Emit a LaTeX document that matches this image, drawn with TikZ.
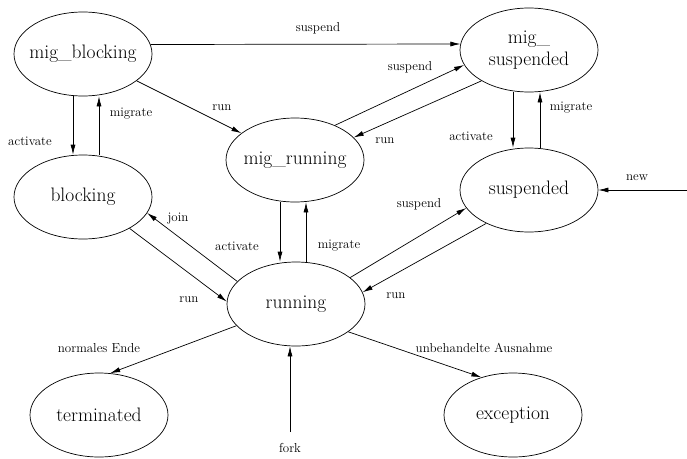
\documentclass[tikz,border=0pt]{standalone}
\usetikzlibrary{shapes.geometric,arrows.meta}
\begin{document}
\begin{tikzpicture}[x=1pt,y=-1pt,line width=0.7pt,
  state/.style={draw,ellipse,minimum width=138pt,minimum height=84pt,inner sep=0pt,inner xsep=-20pt,align=center,font=\fontsize{19.5}{22}\selectfont},
  lbl/.style={inner sep=0pt,font=\fontsize{13}{15}\selectfont},
  trans/.style={-{Latex[length=10pt,width=5pt]}}]
\useasboundingbox (0,0) rectangle (687,458);
% states
\node [state] (migblk) at (83,54) {mig\_blocking};
\node [state] (migsus) at (529,50) {mig\_\\suspended};
\node [state] (blk) at (83,197) {blocking};
\node [state] (migrun) at (295,160) {mig\_running};
\node [state] (sus) at (529,190) {suspended};
\node [state] (run) at (296,304) {running};
\node [state] (term) at (99,415) {terminated};
\node [state] (exc) at (513,415) {exception};
\coordinate (newin) at (687,190);
\coordinate (forkin) at (290,432);
% transitions
\draw [trans] (migblk.8.9) -- (migsus.175);
\draw (318,28) node [lbl] {suspend};
\draw [trans] (migblk) -- (migrun);
\draw (222,108) node [lbl] {run};
\draw [trans] ([xshift=-10pt]migblk.south) -- ([xshift=-10pt]migblk.south |- blk.north);
\draw (30,141) node [lbl] {activate};
\draw [trans] ([xshift=16pt]blk.north) -- ([xshift=16pt]blk.north |- migblk.south);
\draw (131,114) node [lbl] {migrate};
\draw [trans] (migrun.41.9) -- (migsus.193.2);
\draw (410,67) node [lbl] {suspend};
\draw [trans] (migsus.213.1) -- (migrun.21.3);
\draw (385,141) node [lbl] {run};
\draw [trans] ([xshift=-16pt]migsus.south) -- ([xshift=-16pt]migsus.south |- sus.north);
\draw (471,136) node [lbl] {activate};
\draw [trans] ([xshift=11pt]sus.north) -- ([xshift=11pt]sus.north |- migsus.south);
\draw (571,108) node [lbl] {migrate};
\draw [trans] (newin) -- (newin -| sus.east);
\draw (637,178) node [lbl] {new};
\draw [trans] (run.26.6) -- (sus.196.2);
\draw (419,204) node [lbl] {suspend};
\draw [trans] (sus.218.6) -- (run.10.2);
\draw (396,296) node [lbl] {run};
\draw [trans] (run.159.6) -- (blk.346.2);
\draw (178,219) node [lbl] {join};
\draw [trans] (blk.326.8) -- (run.178);
\draw (189,300) node [lbl] {run};
\draw [trans] ([xshift=-15pt]migrun.south) -- ([xshift=-15pt]migrun.south |- run.north);
\draw (237,246) node [lbl] {activate};
\draw [trans] ([xshift=10pt]run.north) -- ([xshift=10pt]run.north |- migrun.south);
\draw (339,246) node [lbl] {migrate};
\draw [trans] (run.200.7) -- (term.75.3);
\draw (99,348) node [lbl] {normales Ende};
\draw [trans] (run.332.6) -- (exc.130);
\draw (484,348) node [lbl] {unbehandelte Ausnahme};
\draw [trans] (forkin) -- (forkin |- run.south);
\draw (290,448) node [lbl] {fork};
\end{tikzpicture}
\end{document}
